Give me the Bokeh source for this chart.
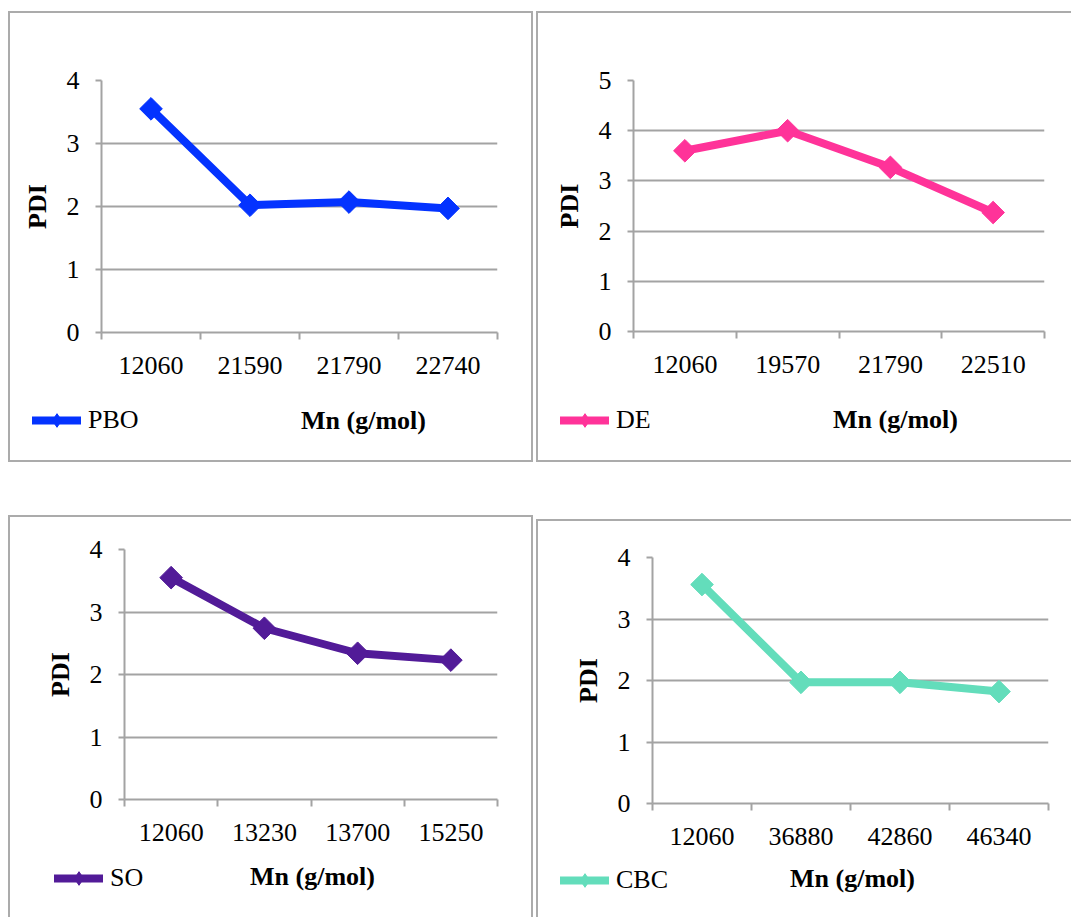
import math
from bokeh.plotting import figure
from bokeh.models import (Range1d, FixedTicker, Legend, LegendItem, Label, Spacer,
                          CustomJSTickFormatter)
from bokeh.layouts import row, column
from bokeh.core.properties import value
from bokeh.embed import file_html
from bokeh.resources import INLINE

# ---------------- data ----------------
mn_pbo = ["12060", "21590", "21790", "22740"]
pdi_pbo = [3.55, 2.02, 2.07, 1.97]

mn_de = ["12060", "19570", "21790", "22510"]
pdi_de = [3.60, 4.00, 3.27, 2.37]

mn_so = ["12060", "13230", "13700", "15250"]
pdi_so = [3.55, 2.74, 2.34, 2.23]

mn_cbc = ["12060", "36880", "42860", "46340"]
pdi_cbc = [3.56, 1.97, 1.97, 1.82]

x_title = "Mn (g/mol)"
y_title = "PDI"

FONT = "Liberation Serif"
GRID = "#a3a3a3"
FS = "26px"
BB = 60    # space kept under each plot frame for the category axis
OFF = 200  # strip ranges start away from the series values
GH = 34    # legend glyph height


def panel(labels, vals, color, name, ymax, w, bl, br, bt, fh, strip_h,
          leg_x, leg_cy, mn_x, mn_cy):
    n = len(labels)
    xs = [i + 0.5 for i in range(n)]
    h = bt + fh + BB
    p = figure(width=w, height=h, x_range=Range1d(0, n), y_range=Range1d(0, ymax),
               output_backend="svg", toolbar_location=None,
               min_border_left=bl, min_border_right=br,
               min_border_top=bt, min_border_bottom=BB,
               outline_line_color=None, background_fill_color="white",
               border_fill_color="white")
    p.frame_align = False

    # x axis: category boundaries as ticks, labels at centers
    xa = p.xaxis[0]
    xa.ticker = FixedTicker(ticks=xs, minor_ticks=list(range(n + 1)))
    xa.formatter = CustomJSTickFormatter(args=dict(labels=labels),
                                         code="return labels[Math.floor(tick)];")
    xa.axis_line_color = GRID
    xa.axis_line_width = 2
    xa.major_tick_line_color = None
    xa.major_tick_in = 0
    xa.major_tick_out = 0
    xa.minor_tick_line_color = GRID
    xa.minor_tick_line_width = 2
    xa.minor_tick_in = 0
    xa.minor_tick_out = 7
    xa.major_label_text_font = FONT
    xa.major_label_text_font_size = FS
    xa.major_label_text_color = "black"
    xa.major_label_standoff = 17

    ya = p.yaxis[0]
    ya.ticker = FixedTicker(ticks=list(range(ymax + 1)), minor_ticks=[])
    ya.axis_line_color = GRID
    ya.axis_line_width = 2
    ya.major_tick_line_color = GRID
    ya.major_tick_line_width = 2
    ya.major_tick_in = 0
    ya.major_tick_out = 6
    ya.minor_tick_line_color = None
    ya.major_label_text_font = FONT
    ya.major_label_text_font_size = FS
    ya.major_label_text_color = "black"
    ya.major_label_standoff = 16
    ya.axis_label = y_title
    ya.axis_label_text_font = FONT
    ya.axis_label_text_font_size = FS
    ya.axis_label_text_font_style = "bold"
    ya.axis_label_text_color = "black"
    ya.axis_label_standoff = 12

    p.xgrid.visible = False
    p.ygrid.ticker = FixedTicker(ticks=list(range(ymax + 1)), minor_ticks=[])
    p.ygrid.grid_line_color = GRID
    p.ygrid.grid_line_width = 2

    p.line(xs, vals, line_width=8, line_color=color, line_join="round")
    p.scatter(xs, vals, marker="square", size=16, angle=math.pi / 4,
              fill_color=color, line_color=color)

    # strip under the chart: legend + x title (coordinates in pixels of the strip)
    s = figure(width=w, height=strip_h, x_range=Range1d(OFF, OFF + w),
               y_range=Range1d(-strip_h, 0), x_axis_type=None, y_axis_type=None,
               output_backend="svg", toolbar_location=None,
               min_border_left=0, min_border_right=0, min_border_top=0,
               min_border_bottom=0, outline_line_color=None,
               background_fill_color="white", border_fill_color="white")
    s.frame_align = False
    s.grid.visible = False
    # legend sample renderers (their data lie outside this strip's ranges)
    ln = s.line(xs, vals, line_width=8, line_color=color, line_cap="round")
    sc = s.scatter(xs, vals, marker="diamond", size=16,
                   fill_color=color, line_color=color)
    leg = Legend(items=[LegendItem(label=value(name), renderers=[ln, sc])],
                 location=(leg_x + 4, strip_h - leg_cy - GH // 2),
                 glyph_width=49, glyph_height=GH,
                 label_standoff=7, padding=0, margin=0, spacing=0,
                 border_line_color=None, background_fill_alpha=0,
                 label_text_font=FONT, label_text_font_size=FS,
                 label_text_color="black", label_height=GH)
    s.add_layout(leg)
    s.add_layout(Label(x=OFF + mn_x, y=-mn_cy, text=x_title, text_font=FONT,
                       text_font_size=FS, text_font_style="bold",
                       text_color="black", text_align="center",
                       text_baseline="middle"))
    return column(p, s)


c1 = panel(mn_pbo, pdi_pbo, "#0433ff", "PBO", 4, 521, 91, 34, 67, 252, 68,
           18, 28, 353, 28)
c2 = panel(mn_de, pdi_de, "#ff3399", "DE", 5, 533, 95, 27, 67, 251, 69,
           18, 29, 357, 28)
c3 = panel(mn_so, pdi_so, "#521b98", "SO", 4, 521, 114, 34, 32, 250, 58,
           40, 19, 302, 17)
c4 = panel(mn_cbc, pdi_cbc, "#63ddbb", "CBC", 4, 533, 114, 23, 36, 246, 54,
           18, 17, 314, 15)

B = "2px solid #ababab"
c1.styles = {"border": B}
c2.styles = {"border-top": B, "border-left": B, "border-bottom": B}
c3.styles = {"border-top": B, "border-left": B, "border-right": B}
c4.styles = {"border-top": B, "border-left": B}

left = column(Spacer(width=10, height=11), c1, Spacer(width=10, height=53), c3)
right = column(Spacer(width=10, height=11), c2, Spacer(width=10, height=57), c4)
layout = row(Spacer(width=8, height=10), left, Spacer(width=3, height=10), right)

open("out.html", "w").write(file_html(layout, INLINE))
